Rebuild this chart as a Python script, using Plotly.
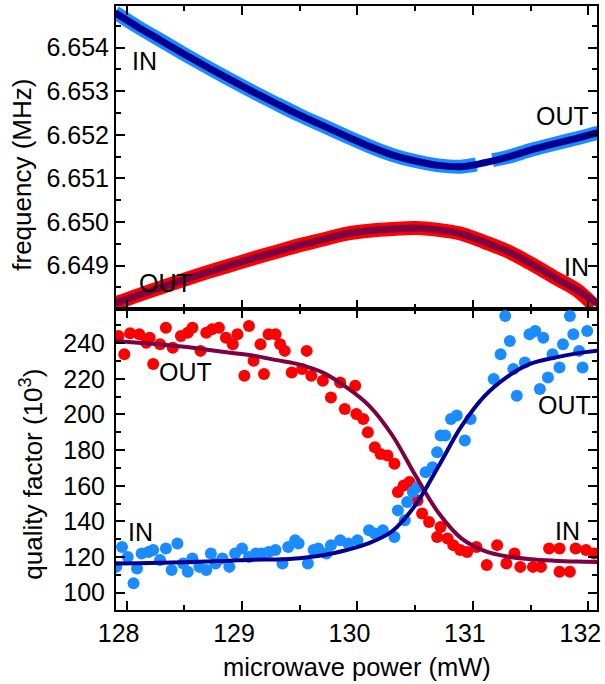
import plotly.graph_objects as go

# ---------------- data ----------------
# top panel: resonance frequency (MHz) vs microwave power (mW)
fit_x = [127.9, 128.1, 128.3, 128.5, 128.7, 128.9, 129.1, 129.3, 129.5, 129.7, 129.9,
         130.1, 130.3, 130.5, 130.7, 130.9, 131.1, 131.3, 131.5, 131.7, 131.9, 132.1]
blue_freq_fit = [6.65480, 6.65447, 6.65416, 6.65385, 6.65355, 6.65326, 6.65298, 6.65271,
                 6.65245, 6.65221, 6.65197, 6.65174, 6.65154, 6.65140, 6.65130, 6.65127,
                 6.65136, 6.65149, 6.65165, 6.65179, 6.65192, 6.65206]
red_freq_fit = [6.64814, 6.64832, 6.64850, 6.64868, 6.64885, 6.64901, 6.64917, 6.64932,
                6.64947, 6.64960, 6.64973, 6.64980, 6.64984, 6.64986, 6.64982, 6.64973,
                6.64954, 6.64933, 6.64905, 6.64874, 6.64844, 6.64810]

blue_freq_x = [127.9, 128.1, 128.3, 128.5, 128.7, 128.9, 129.1, 129.3, 129.5, 129.7, 129.9,
               130.1, 130.3, 130.5, 130.7, 130.9, 131.03, None, 131.17, 131.3, 131.5, 131.7,
               131.9, 132.1]
blue_freq = [6.65481, 6.65447, 6.65416, 6.65385, 6.65355, 6.65326, 6.65298, 6.65271,
             6.65245, 6.65221, 6.65197, 6.65174, 6.65154, 6.65140, 6.65130, 6.65127,
             6.65132, None, 6.65142, 6.65149, 6.65165, 6.65179, 6.65192, 6.65206]
red_freq_x = [127.9, 128.1, 128.3, 128.5, 128.7, 128.9, 129.1, 129.3, 129.5, 129.7, 129.9,
              130.1, 130.3, 130.5, 130.7, 130.9, 131.1, 131.3, 131.5, 131.7, 131.9, 132.05]
red_freq = [6.64813, 6.64832, 6.64850, 6.64868, 6.64885, 6.64901, 6.64917, 6.64932,
            6.64947, 6.64960, 6.64973, 6.64980, 6.64984, 6.64986, 6.64982, 6.64973,
            6.64954, 6.64933, 6.64905, 6.64874, 6.64844, 6.64808]

# bottom panel: quality factor (10^3)
red_q_fit = [241.3, 240.3, 239.3, 238.0, 236.3, 234.6, 233.0, 230.5, 228.0, 223.5, 215.5,
             205.0, 188.5, 166.0, 145.0, 130.5, 123.5, 120.3, 118.8, 118.0, 117.5, 117.2]
blue_q_fit = [116.4, 116.6, 116.8, 117.1, 117.5, 118.0, 118.5, 118.7, 119.4, 121.0, 123.8,
              127.8, 134.5, 149.0, 170.7, 193.3, 210.3, 221.3, 228.5, 231.8, 234.3, 235.9]

red_q_x = [127.93, 127.98, 128.03, 128.11, 128.17, 128.20, 128.23, 128.29, 128.34, 128.40,
           128.47, 128.53, 128.57, 128.64, 128.69, 128.74, 128.80, 128.86, 128.92, 128.96,
           129.02, 129.06, 129.10, 129.16, 129.19, 129.23, 129.29, 129.33, 129.37, 129.43,
           129.52, 129.56, 129.60, 129.70, 129.77, 129.85, 129.89, 129.98, 129.99, 130.05,
           130.09, 130.15, 130.20, 130.26, 130.32, 130.35, 130.40, 130.45, 130.52, 130.56,
           130.62, 130.69, 130.72, 130.78, 130.83, 130.89, 130.95, 131.03, 131.12, 131.21,
           131.29, 131.36, 131.41, 131.52, 131.59, 131.66, 131.75, 131.75, 131.84, 131.89,
           131.98, 132.05]
red_q = [244.1, 233.8, 245.6, 245.0, 240.3, 243.1, 228.3, 239.4, 248.7, 237.5,
         244.1, 245.9, 248.7, 235.7, 245.9, 247.8, 248.7, 243.1, 239.4, 245.0,
         221.7, 249.7, 230.1, 239.4, 222.7, 245.0, 245.0, 239.4, 235.7, 223.6,
         225.5, 235.7, 221.7, 218.9, 209.6, 218.0, 203.1, 216.1, 200.3, 197.5,
         190.0, 181.6, 177.9, 177.0, 172.3, 156.5, 160.2, 162.1, 151.8, 144.4,
         139.7, 131.3, 136.9, 130.4, 126.7, 123.9, 122.9, 125.7, 115.5, 126.7,
         116.4, 122.0, 114.5, 114.5, 114.5, 124.8, 124.8, 111.7, 111.7, 124.8,
         123.9, 122.0]

blue_q_x = [127.91, 127.96, 128.01, 128.06, 128.09, 128.13, 128.19, 128.23, 128.29, 128.34,
            128.39, 128.44, 128.49, 128.53, 128.57, 128.63, 128.69, 128.73, 128.77, 128.83,
            128.89, 128.94, 129.00, 129.06, 129.12, 129.17, 129.23, 129.29, 129.35, 129.40,
            129.46, 129.49, 129.57, 129.62, 129.66, 129.73, 129.77, 129.85, 129.92, 130.00,
            130.10, 130.15, 130.22, 130.32, 130.35, 130.41, 130.43, 130.48, 130.52, 130.59,
            130.65, 130.69, 130.72, 130.76, 130.81, 130.86, 130.93, 130.98, 131.18, 131.24,
            131.28, 131.32, 131.35, 131.38, 131.45, 131.49, 131.54, 131.58, 131.61, 131.65,
            131.69, 131.75, 131.78, 131.84, 131.87, 131.92, 131.95, 131.99]
blue_q = [114.5, 125.7, 120.1, 105.3, 113.6, 122.0, 122.9, 123.9, 118.3, 124.8,
          112.7, 127.6, 116.4, 111.7, 119.2, 114.5, 112.7, 122.0, 116.4, 119.2,
          114.5, 122.0, 124.8, 120.1, 122.0, 122.0, 122.9, 123.9, 116.4, 125.7,
          129.5, 127.6, 116.4, 123.9, 124.8, 122.0, 126.7, 129.5, 127.6, 129.5,
          135.1, 133.2, 135.1, 131.3, 146.2, 140.6, 150.9, 156.5, 159.3, 167.6,
          170.4, 178.8, 188.2, 188.2, 197.5, 199.4, 185.4, 197.5, 219.9, 233.8,
          255.3, 241.3, 225.5, 210.5, 229.2, 245.0, 246.9, 214.3, 243.1, 220.8,
          233.8, 226.4, 239.4, 255.3, 245.0, 235.7, 226.4, 246.9]

x_ticks = [128, 129, 130, 131, 132]
x_range = [127.908, 132.075]
top_range = [6.648005, 6.654955]
bottom_range = [90.3, 259.2]

LIGHT_BLUE = "#1a8cff"
RED = "#ff0000"
NAVY = "#000090"
WINE = "#7d0040"
FONT = "Arial, Liberation Sans, sans-serif"

fig = go.Figure()

# top panel
fig.add_trace(go.Scatter(x=blue_freq_x, y=blue_freq, mode="lines", xaxis="x", yaxis="y",
                         line=dict(color=LIGHT_BLUE, width=14, shape="spline"),
                         connectgaps=False, showlegend=False))
fig.add_trace(go.Scatter(x=red_freq_x, y=red_freq, mode="lines", xaxis="x", yaxis="y",
                         line=dict(color=RED, width=14, shape="spline"), showlegend=False))
fig.add_trace(go.Scatter(x=fit_x, y=blue_freq_fit, mode="lines", xaxis="x", yaxis="y",
                         line=dict(color=NAVY, width=7, shape="spline"), showlegend=False))
fig.add_trace(go.Scatter(x=fit_x, y=red_freq_fit, mode="lines", xaxis="x", yaxis="y",
                         line=dict(color=WINE, width=7, shape="spline"), showlegend=False))

# bottom panel
fig.add_trace(go.Scatter(x=red_q_x, y=red_q, mode="markers", xaxis="x2", yaxis="y2",
                         marker=dict(color=RED, size=12), showlegend=False, cliponaxis=True))
fig.add_trace(go.Scatter(x=blue_q_x, y=blue_q, mode="markers", xaxis="x2", yaxis="y2",
                         marker=dict(color=LIGHT_BLUE, size=12), showlegend=False, cliponaxis=True))
fig.add_trace(go.Scatter(x=fit_x, y=red_q_fit, mode="lines", xaxis="x2", yaxis="y2",
                         line=dict(color=WINE, width=4, shape="spline"), showlegend=False))
fig.add_trace(go.Scatter(x=fit_x, y=blue_q_fit, mode="lines", xaxis="x2", yaxis="y2",
                         line=dict(color=NAVY, width=4, shape="spline"), showlegend=False))

axis_common = dict(showline=True, linecolor="black", linewidth=2, mirror="allticks",
                   ticks="inside", ticklen=9, tickwidth=2, tickcolor="black",
                   showgrid=False, zeroline=False,
                   tickfont=dict(family=FONT, size=25, color="black"))

split = 0.49835
fig.update_layout(
    width=605, height=684,
    margin=dict(l=116, r=4, t=4, b=74),
    paper_bgcolor="white", plot_bgcolor="white",
    font=dict(family=FONT, color="black"),
    xaxis=dict(axis_common, domain=[0, 1], anchor="y", range=x_range, tickvals=x_ticks,
               showticklabels=False,
               minor=dict(ticks="inside", ticklen=5, tickwidth=2, tickcolor="black", dtick=0.5, tick0=128)),
    xaxis2=dict(axis_common, domain=[0, 1], anchor="y2", range=x_range, tickvals=x_ticks,
                ticklabelshift=-8,
                minor=dict(ticks="inside", ticklen=5, tickwidth=2, tickcolor="black", dtick=0.5, tick0=128)),
    yaxis=dict(axis_common, domain=[split, 1], anchor="x", range=top_range,
               dtick=0.001, tick0=6.648, tickformat=".3f",
               minor=dict(ticks="inside", ticklen=5, tickwidth=2, tickcolor="black", dtick=0.0005, tick0=6.648)),
    yaxis2=dict(axis_common, domain=[0, split], anchor="x2", range=bottom_range,
                dtick=20, tick0=0, ticklabelstandoff=4,
                minor=dict(ticks="inside", ticklen=5, tickwidth=2, tickcolor="black", dtick=10, tick0=0)),
)

def px_x(px):
    return (px - 116) / 485.0

def px_y(py):
    return (610 - py) / 606.0

ann = []
ann.append(dict(text="frequency (MHz)", x=px_x(21), y=px_y(173.5), textangle=-90,
                font=dict(size=26)))
ann.append(dict(text="quality factor (10<sup>3</sup>)", x=px_x(31), y=px_y(473.5), textangle=-90,
                font=dict(size=26)))
ann.append(dict(text="microwave power (mW)", x=px_x(359), y=px_y(667), font=dict(size=25.5)))
labels = [("IN", 145, 59), ("OUT", 166, 282), ("OUT", 566, 114.5), ("IN", 580, 266),
          ("OUT", 186, 371), ("IN", 141, 532), ("OUT", 568, 404), ("IN", 571, 531)]
for t, lx, ly in labels:
    ann.append(dict(text=t, x=px_x(lx), y=px_y(ly), font=dict(size=25)))
for a in ann:
    a.update(xref="paper", yref="paper", showarrow=False, xanchor="center", yanchor="middle")
    a["font"].update(family=FONT, color="black")
fig.update_layout(annotations=ann)

fig.write_html("out.html", config={"displayModeBar": False},
               post_script="document.body.style.margin='0';document.body.style.overflow='hidden';")
